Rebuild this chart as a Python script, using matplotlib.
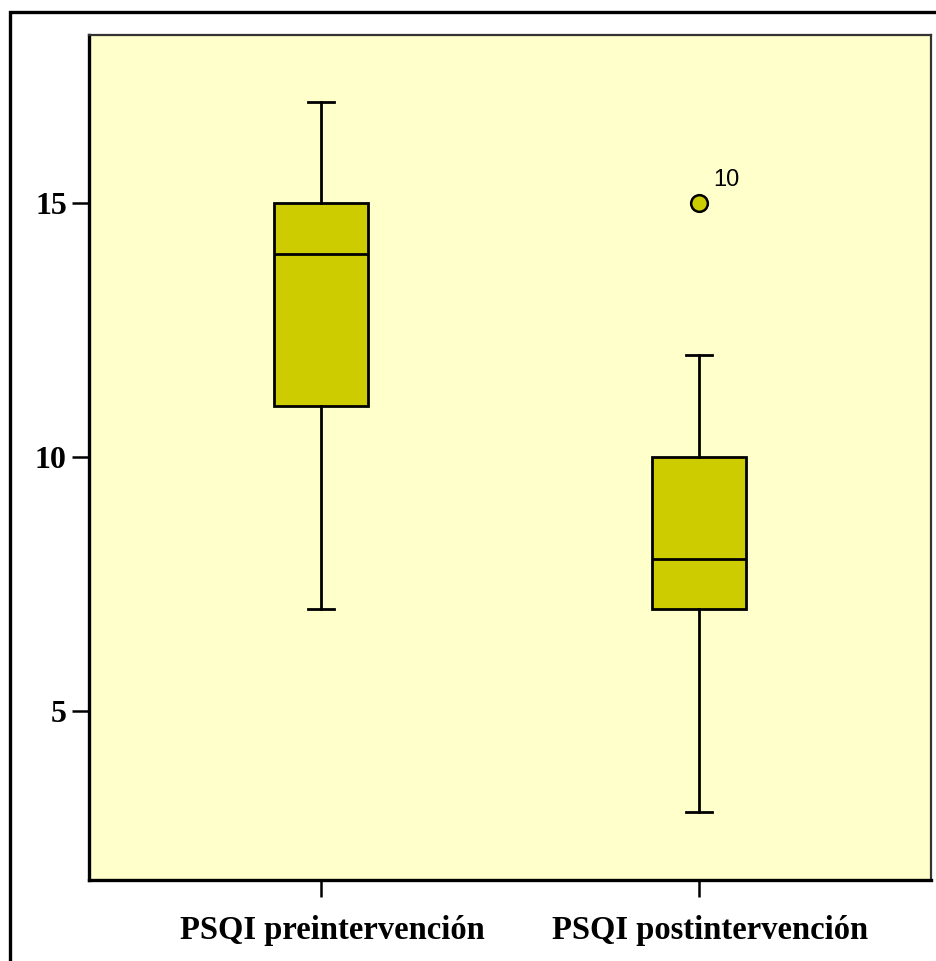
import matplotlib
matplotlib.use("Agg")
import matplotlib.pyplot as plt
from matplotlib.patches import Rectangle

# ----------------------------- data ----------------------------- #
labels = ["PSQI preintervención", "PSQI postintervención"]
whisker_low = [7, 3]
q1 = [11, 7]
median = [14, 8]
q3 = [15, 10]
whisker_high = [17, 12]
outliers = [[], [15]]
outlier_ids = [[], ["10"]]
yticks = [5, 10, 15]

# ----------------------------- colours ----------------------------- #
bg = "#FFFFCC"
box_fill = "#CCCC00"

stats = []
for i in range(len(labels)):
    stats.append({"whislo": whisker_low[i], "q1": q1[i], "med": median[i],
                  "q3": q3[i], "whishi": whisker_high[i], "fliers": outliers[i],
                  "label": labels[i]})

fig = plt.figure(figsize=(9.36, 9.61), dpi=100)
ax = fig.add_axes([89/936, 1 - 880/961, (931 - 89)/936, (880 - 35)/961])
ax.set_facecolor(bg)

positions = [1, 2]
lw = 2.0
ax.bxp(stats, positions=positions, widths=0.25, capwidths=0.07,
       patch_artist=True, showfliers=True,
       boxprops=dict(facecolor=box_fill, edgecolor="black", linewidth=lw),
       medianprops=dict(color="black", linewidth=lw),
       whiskerprops=dict(color="black", linewidth=lw),
       capprops=dict(color="black", linewidth=lw),
       flierprops=dict(marker="o", markerfacecolor=box_fill,
                       markeredgecolor="black", markeredgewidth=1.8,
                       markersize=12))

# case number next to the outlier
for i, pos in enumerate(positions):
    for val, name in zip(outliers[i], outlier_ids[i]):
        ax.annotate(name, (pos, val), xytext=(14, 12), textcoords="offset pixels",
                    fontsize=17, family="Liberation Sans", va="bottom", ha="left")

ax.set_xlim(0.386, 2.614)
ax.set_ylim(1.67, 18.31)
ax.set_yticks(yticks)
ax.set_xticks(positions)
ax.set_xticklabels([])

# category labels sit a little right of their ticks in the original
for pos, name in zip(positions, labels):
    ax.annotate(name, (pos, 0), xycoords=("data", "axes fraction"),
                xytext=(11, -35), textcoords="offset pixels",
                ha="center", va="top", fontsize=23.5,
                family="Liberation Serif", fontweight="bold",
                annotation_clip=False)

for lab in ax.get_yticklabels():
    lab.set_family("Liberation Serif")
    lab.set_fontweight("bold")
    lab.set_fontsize(23)

ax.tick_params(axis="both", direction="out", length=12, width=1.8, color="black")
ax.tick_params(axis="y", pad=4)

for side in ["left", "bottom"]:
    ax.spines[side].set_linewidth(2.4)
    ax.spines[side].set_color("black")
for side in ["top", "right"]:
    ax.spines[side].set_linewidth(1.6)
    ax.spines[side].set_color("#333333")

# outer frame of the exported chart (runs off right and bottom)
fig.patches.append(Rectangle((10/936, -0.1), 1.2, 1 - 12/961 + 0.1,
                             transform=fig.transFigure, fill=False,
                             edgecolor="black", linewidth=2.4, clip_on=False))

fig.savefig("out.png", dpi=100)
